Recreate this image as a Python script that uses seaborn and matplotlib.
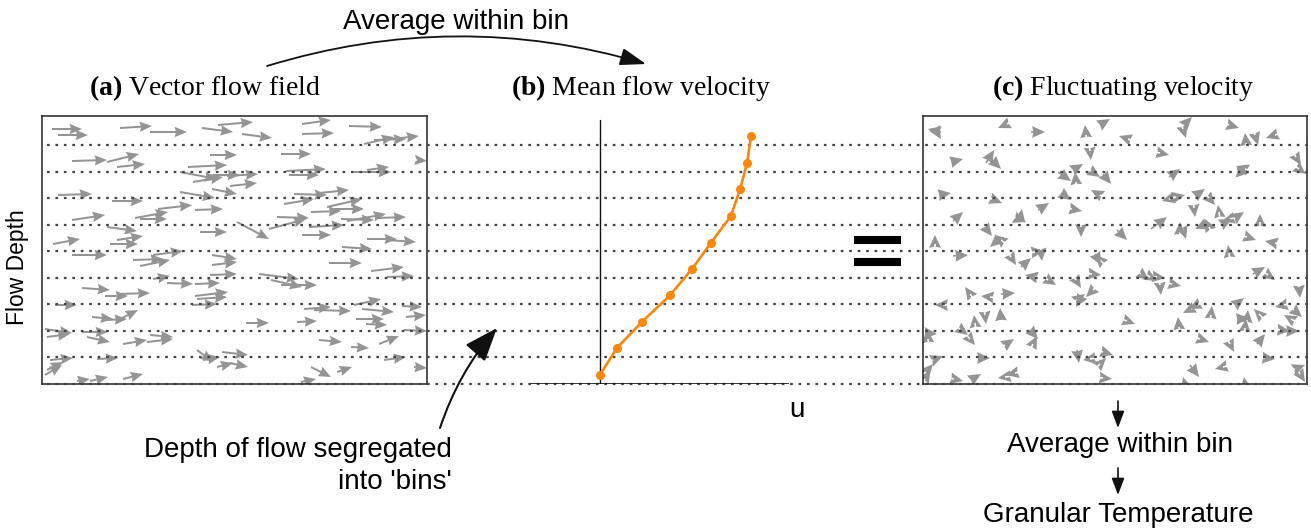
import numpy as np
import pandas as pd
import matplotlib
matplotlib.use("Agg")
import matplotlib.pyplot as plt
import seaborn as sns

# ---------------- data ----------------
# bin boundaries (in bin units above the bed)
bin_edges = [0, 1, 2, 3, 4, 5, 6, 7, 8, 9]

# (b) mean velocity profile
profile_depth = [0.35, 1.36, 2.34, 3.34, 4.33, 5.32, 6.33, 7.33, 8.31, 9.33]
profile_u = [0.00, 0.17, 0.42, 0.70, 0.92, 1.11, 1.31, 1.40, 1.47, 1.51]

# (a) vector flow field: arrow tails (x0, y0) and tips (x1, y1), positions in the panel (px)
field_x0 = [52, 58, 120, 150, 202, 218, 72, 107, 117, 210, 188, 180, 193, 58, 112, 180, 212, 158,
            72, 135, 140, 195, 107, 117, 110, 53, 200, 72, 133, 140, 153, 212, 212, 153, 167, 195,
            210, 82, 105, 118, 195, 197, 192, 55, 92, 107, 120, 45, 47, 82, 87, 123, 147, 150,
            97, 50, 197, 203, 222, 217, 230, 45, 47, 77, 90, 123, 213, 227, 230,
            242, 302, 302, 349, 364, 374, 391, 281, 286, 289, 354, 367, 294, 319, 284, 327, 311,
            334, 277, 269, 309, 341, 347, 377, 237, 302, 367, 387, 342, 329, 371, 387, 259, 271,
            281, 304, 314, 354, 362, 246, 297, 356, 366, 406, 402, 404, 319, 351, 379, 384, 311,
            337, 301, 414, 417]
field_y0 = [129, 135, 128, 132, 128, 125, 161, 162, 167, 155, 167, 172, 182, 195, 201, 192, 189, 209,
            220, 218, 219, 210, 227, 240, 244, 244, 232, 255, 260, 266, 255, 255, 265, 279, 283, 284,
            275, 288, 296, 294, 296, 299, 305, 305, 317, 320, 319, 329, 337, 332, 337, 344, 342, 335,
            359, 360, 350, 360, 352, 367, 363, 375, 370, 381, 381, 379, 175, 176, 186,
            134, 124, 134, 126, 144, 140, 139, 154, 171, 175, 172, 170, 194, 193, 204, 207, 212,
            209, 217, 229, 227, 219, 221, 218, 222, 235, 239, 240, 247, 263, 271, 277, 274, 280,
            285, 309, 310, 305, 309, 323, 322, 319, 324, 317, 306, 330, 340, 347, 344, 360, 367,
            372, 382, 367, 160]
field_x1 = [82, 88, 152, 187, 233, 253, 107, 139, 145, 237, 227, 217, 223, 92, 143, 215, 237, 192,
            105, 168, 167, 223, 137, 143, 138, 80, 227, 107, 163, 170, 183, 237, 237, 170, 193, 220,
            237, 110, 128, 150, 228, 227, 217, 77, 113, 127, 138, 72, 70, 108, 110, 147, 173, 173,
            118, 73, 213, 220, 248, 233, 248, 62, 63, 90, 108, 143, 240, 258, 257,
            272, 331, 334, 382, 394, 406, 419, 311, 326, 319, 391, 389, 327, 349, 314, 362, 341,
            364, 309, 306, 344, 374, 386, 406, 269, 331, 397, 416, 372, 362, 404, 414, 299, 302,
            317, 331, 351, 381, 394, 269, 317, 384, 387, 426, 422, 427, 342, 369, 399, 406, 331,
            352, 316, 427, 427]
field_y1 = [129, 135, 126, 132, 132, 122, 160, 154, 164, 155, 165, 179, 177, 194, 201, 198, 194, 205,
            215, 212, 219, 209, 231, 236, 244, 239, 232, 255, 259, 260, 251, 259, 262, 276, 284, 283,
            274, 290, 296, 293, 292, 297, 304, 305, 319, 319, 310, 333, 334, 332, 342, 340, 339, 337,
            358, 358, 362, 357, 355, 363, 367, 365, 362, 379, 377, 374, 175, 174, 183,
            138, 120, 133, 127, 137, 139, 136, 154, 169, 175, 172, 167, 195, 190, 199, 199, 211,
            209, 218, 219, 225, 220, 214, 217, 239, 235, 239, 242, 249, 263, 267, 276, 279, 287,
            285, 307, 311, 299, 312, 323, 321, 319, 325, 315, 307, 331, 342, 348, 336, 357, 377,
            367, 379, 368, 161]

# (c) fluctuating velocity: arrow tails (x0, y0) and tips (x1, y1), positions in the panel (px)
fluct_x0 = [941, 935, 1007, 1031, 1086, 1100, 951, 986, 992, 1090, 1058, 1073, 1076, 1091, 1103, 939,
            992, 1061, 1072, 1100, 1038, 953, 1020, 1016, 985, 1001, 998, 935, 1081, 953, 1011, 1021,
            1035, 1041, 1095, 1100, 1035, 1048, 1076, 1092, 970, 990, 1001, 1078, 1093, 1080, 943, 975,
            985, 1001, 928, 925, 960, 970, 1005, 1030, 1033, 933, 925, 926, 978, 1077, 1090, 1100,
            1103, 954, 971, 1005, 1015, 1103,
            1184, 1183, 1229, 1128, 1246, 1255, 1275, 1160, 1296, 1299, 1169, 1245, 1240, 1169, 1176,
            1195, 1209, 1219, 1194, 1151, 1180, 1183, 1204, 1209, 1222, 1230, 1235, 1260, 1117, 1247,
            1275, 1229, 1253, 1268, 1141, 1150, 1157, 1160, 1172, 1299, 1191, 1197, 1211, 1235, 1247,
            1245, 1237, 1259, 1284, 1291, 1294, 1127, 1179, 1280, 1289, 1200, 1230, 1257, 1265, 1190,
            1223, 1295, 1300, 1185, 1245]
fluct_y0 = [132, 129, 124, 132, 135, 125, 162, 163, 160, 151, 172, 170, 182, 171, 174, 195,
            199, 193, 209, 195, 210, 221, 219, 218, 227, 240, 240, 244, 227, 256, 257, 267,
            252, 252, 254, 260, 277, 280, 280, 274, 294, 297, 294, 299, 290, 300, 305, 323,
            315, 320, 339, 333, 329, 339, 345, 330, 344, 360, 379, 372, 358, 350, 359, 364,
            352, 379, 380, 377, 373, 378,
            125, 129, 125, 139, 143, 135, 135, 153, 157, 169, 177, 169, 172, 199, 197,
            196, 198, 212, 208, 229, 230, 230, 225, 227, 224, 219, 218, 222, 230, 237,
            243, 253, 274, 275, 274, 277, 277, 285, 284, 287, 309, 305, 315, 305, 320,
            328, 319, 314, 305, 319, 310, 321, 327, 330, 331, 339, 344, 344, 358, 365,
            367, 369, 374, 384, 384]
fluct_x1 = [928, 941, 998, 1045, 1085, 1110, 963, 994, 1001, 1091, 1071, 1083, 1075, 1100, 1111, 951,
            1002, 1071, 1082, 1091, 1049, 963, 1022, 1026, 992, 995, 990, 935, 1081, 968, 1016, 1031,
            1044, 1042, 1101, 1095, 1025, 1056, 1081, 1101, 965, 981, 1015, 1085, 1086, 1076, 935, 974,
            986, 1000, 927, 937, 968, 975, 1014, 1038, 1037, 943, 930, 933, 990, 1079, 1083, 1106,
            1113, 963, 981, 998, 1006, 1112,
            1192, 1186, 1239, 1119, 1245, 1258, 1266, 1169, 1301, 1306, 1180, 1236, 1249, 1162, 1185,
            1205, 1215, 1218, 1195, 1167, 1180, 1186, 1195, 1205, 1232, 1222, 1244, 1260, 1127, 1256,
            1265, 1228, 1265, 1275, 1149, 1157, 1165, 1161, 1181, 1300, 1183, 1189, 1212, 1244, 1248,
            1246, 1249, 1254, 1275, 1284, 1302, 1135, 1178, 1290, 1299, 1209, 1234, 1265, 1275, 1199,
            1215, 1305, 1305, 1183, 1244]
fluct_y1 = [129, 139, 128, 132, 125, 119, 159, 150, 169, 160, 181, 164, 172, 177, 184, 193,
            203, 200, 211, 190, 203, 212, 209, 222, 236, 235, 247, 235, 237, 255, 265, 258,
            251, 261, 265, 255, 275, 285, 288, 275, 287, 296, 293, 294, 297, 307, 305, 315,
            324, 308, 330, 334, 335, 345, 339, 339, 336, 356, 370, 364, 358, 363, 360, 358,
            355, 381, 374, 378, 375, 379,
            117, 138, 128, 136, 133, 145, 138, 155, 165, 174, 169, 166, 173, 201, 195,
            189, 205, 205, 217, 217, 222, 239, 229, 219, 219, 221, 212, 214, 240, 240,
            241, 245, 267, 280, 280, 281, 278, 295, 286, 298, 313, 309, 306, 298, 310,
            319, 318, 309, 307, 315, 317, 324, 317, 331, 331, 342, 352, 334, 359, 377,
            369, 365, 382, 377, 377]

# ---------------- figure ----------------
sns.set_theme(style="white")
plt.rcParams['font.family'] = ['Liberation Sans', 'DejaVu Sans']
plt.rcParams['text.color'] = 'black'
plt.rcParams['mathtext.fontset'] = 'custom'
plt.rcParams['mathtext.rm'] = 'Liberation Serif'
plt.rcParams['mathtext.bf'] = 'Liberation Serif:bold'

W, H = 1311, 530
fig = plt.figure(figsize=(W / 100, H / 100), dpi=100)
fig.patch.set_facecolor('white')


def px_axes(x0, y0, x1, y1):
    return fig.add_axes([x0 / W, 1 - y1 / H, (x1 - x0) / W, (y1 - y0) / H])


BASE, TOP = 384, 116
BIN_PX = 26.56
depth_top = (BASE - TOP) / BIN_PX
ARROW_GREY = '#949494'


def style_box(ax):
    ax.set_xticks([])
    ax.set_yticks([])
    for s in ax.spines.values():
        s.set_visible(True)
        s.set_color('#222222')
        s.set_linewidth(1.1)


# (a) vector flow field
ax_a = px_axes(42, TOP, 427, BASE)
fu = np.array(field_x1) - np.array(field_x0)
fv = np.array(field_y1) - np.array(field_y0)
ax_a.quiver(field_x0, field_y0, fu, fv, angles='xy', scale_units='xy', scale=1,
            units='dots', width=2.0, headwidth=5.2, headlength=6.2, headaxislength=5.6,
            minshaft=0, color=ARROW_GREY)
ax_a.set_xlim(42, 427)
ax_a.set_ylim(BASE, TOP)
style_box(ax_a)

# (c) fluctuating velocity
ax_c = px_axes(923, TOP, 1307, BASE)
cu = np.array(fluct_x1) - np.array(fluct_x0)
cv = np.array(fluct_y1) - np.array(fluct_y0)
ax_c.quiver(fluct_x0, fluct_y0, cu, cv, angles='xy', scale_units='xy', scale=1,
            units='dots', width=1.6, headwidth=7.4, headlength=8.0, headaxislength=7.4,
            minshaft=0, color=ARROW_GREY)
ax_c.set_xlim(923, 1307)
ax_c.set_ylim(BASE, TOP)
style_box(ax_c)

# dotted bin boundaries spanning the whole figure
ax_bins = px_axes(0, TOP, W, BASE)
ax_bins.set_xlim(0, W)
ax_bins.set_ylim(0, depth_top)
ax_bins.axis('off')
ax_bins.hlines(bin_edges, 47, W, colors='#444444', linestyles=(0, (1.2, 2.6)),
               linewidth=1.6, clip_on=False)

# (b) mean flow velocity profile
ax_b = px_axes(531, TOP, 789, BASE)
ax_b.axis('off')
ax_b.axvline(0, ymin=0, ymax=(BASE - 120) / (BASE - TOP), color='#111111', lw=1.0)
ax_b.axhline(0, color='#111111', lw=1.2)
df = pd.DataFrame({'u': profile_u, 'depth': profile_depth})
sns.lineplot(data=df, x='u', y='depth', sort=False, estimator=None, marker='o',
             markersize=6.5, markeredgewidth=0, color='#f7870f', linewidth=1.9,
             ax=ax_b, legend=False)
ax_b.set_xlim(-0.69, 1.89)
ax_b.set_ylim(0, depth_top)

# overlay for annotations (figure pixel coordinates)
ov = px_axes(0, 0, W, H)
ov.set_xlim(0, W)
ov.set_ylim(H, 0)
ov.axis('off')

serif = ['Liberation Serif', 'DejaVu Serif']
ov.text(205, 88, r'$\mathbf{(a)}$ Vector flow field', family=serif, fontsize=20,
        ha='center', va='center')
ov.text(641, 88, r'$\mathbf{(b)}$ Mean flow velocity', family=serif, fontsize=20,
        ha='center', va='center')
ov.text(1123, 88, r'$\mathbf{(c)}$ Fluctuating velocity', family=serif, fontsize=20,
        ha='center', va='center')

ov.text(456, 22, 'Average within bin', fontsize=20, ha='center', va='center')
ov.annotate('', xy=(646, 64), xytext=(267, 66),
            arrowprops=dict(arrowstyle='-|>,head_length=0.8,head_width=0.27',
                            mutation_scale=20, connectionstyle='arc3,rad=-0.15',
                            color='#111111', lw=1.3, shrinkA=0, shrinkB=0))

ov.text(18, 267, 'Flow Depth', fontsize=16.5, rotation=90, ha='center', va='center')

ov.text(797, 410, 'u', fontsize=20, ha='center', va='center')

ov.hlines([240, 261.5], 854, 901, colors='black', linewidth=5.8)

ov.text(452, 466, "Depth of flow segregated\ninto 'bins'", fontsize=20, ha='right',
        va='center', multialignment='right', linespacing=1.3)
ov.annotate('', xy=(497, 328), xytext=(440, 428),
            arrowprops=dict(arrowstyle='-|>,head_length=1.05,head_width=0.4',
                            mutation_scale=20, connectionstyle='arc3,rad=-0.1',
                            color='#111111', lw=1.5, shrinkA=0, shrinkB=0))

ov.annotate('', xy=(1118, 428), xytext=(1118, 401),
            arrowprops=dict(arrowstyle='-|>,head_length=0.85,head_width=0.32',
                            mutation_scale=12, color='#111111', lw=1.2, shrinkA=0, shrinkB=0))
ov.text(1120, 445, 'Average within bin', fontsize=20, ha='center', va='center')
ov.annotate('', xy=(1118, 495), xytext=(1118, 468),
            arrowprops=dict(arrowstyle='-|>,head_length=0.85,head_width=0.32',
                            mutation_scale=12, color='#111111', lw=1.2, shrinkA=0, shrinkB=0))
ov.text(1118, 515, 'Granular Temperature', fontsize=20, ha='center', va='center')

fig.savefig('out.png', dpi=100, facecolor='white')
